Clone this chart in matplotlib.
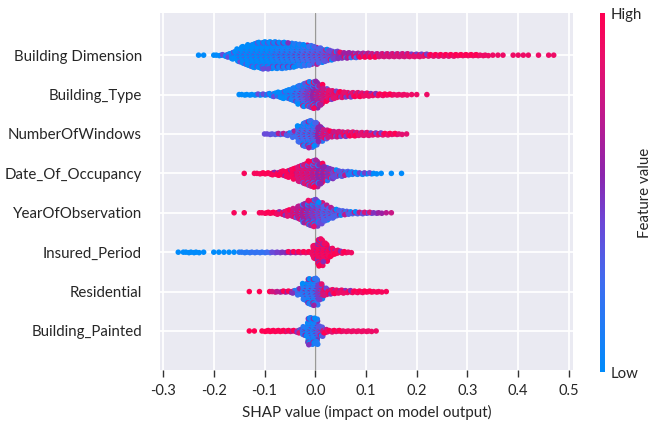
import numpy as np
import matplotlib
matplotlib.use("Agg")
import matplotlib.pyplot as plt
import seaborn as sns
from matplotlib.colors import LinearSegmentedColormap

sns.set_theme(style="darkgrid")
plt.rcParams['font.family'] = ['Lato', 'DejaVu Sans']

# features, top to bottom
features = ["Building Dimension", "Building_Type", "NumberOfWindows",
            "Date_Of_Occupancy", "YearOfObservation", "Insured_Period",
            "Residential", "Building_Painted"]

# dots per 0.01-wide SHAP bin, starting at bin_start[i]
bin_start = [-0.23, -0.15, -0.10, -0.14, -0.16, -0.27, -0.13, -0.13]

counts = [
    [1, 1, 0, 1, 2, 4, 8, 16, 28, 38, 46, 52, 56, 58, 58, 57, 56, 55, 53, 50,
     47, 45, 42, 38, 32, 26, 21, 17, 14, 12, 11, 10, 9, 9, 8, 8, 7, 7, 7, 7,
     7, 7, 6, 6, 6, 5, 4, 4, 4, 4, 4, 3, 3, 3, 3, 3, 2, 2, 1, 1, 1, 0, 1, 1,
     1, 1, 0, 1, 0, 1, 1],
    [1, 2, 2, 2, 3, 3, 5, 8, 12, 17, 22, 30, 40, 50, 56, 58, 44, 28, 20, 16,
     13, 11, 10, 9, 8, 7, 6, 5, 4, 3, 3, 2, 2, 2, 1, 1, 0, 1],
    [1, 2, 2, 3, 4, 6, 14, 35, 52, 58, 50, 32, 20, 14, 12, 11, 10, 9, 8, 7,
     7, 6, 5, 5, 4, 3, 3, 2, 1],
    [1, 0, 1, 2, 3, 4, 6, 9, 12, 17, 24, 34, 44, 54, 58, 44, 30, 22, 16, 12,
     9, 7, 5, 4, 3, 3, 2, 1, 0, 1, 0, 1],
    [1, 0, 1, 0, 0, 1, 2, 3, 4, 6, 10, 14, 20, 30, 42, 54, 58, 46, 34, 24,
     16, 11, 8, 6, 5, 4, 3, 3, 2, 2, 1, 1],
    [1, 1, 2, 2, 2, 1, 0, 1, 1, 1, 1, 1, 1, 2, 2, 2, 2, 2, 2, 2, 2, 2, 3, 3,
     3, 3, 4, 30, 58, 40, 18, 9, 5, 3, 2],
    [1, 0, 1, 0, 1, 2, 2, 3, 4, 6, 14, 36, 56, 58, 34, 16, 10, 8, 7, 6, 5, 4,
     4, 3, 3, 2, 2, 1],
    [1, 1, 0, 2, 3, 3, 3, 3, 3, 4, 8, 20, 58, 56, 22, 8, 4, 3, 3, 2, 2, 2, 2,
     2, 2, 1],
]

# mean feature value per bin (0 = low, 1 = high)
feat_mean = [
    [0, 0, 0, 0, 0, 0, 0, 0, 0, 0, 0, 0, 0, 0, 0, 0.05, 0.1, 0.1, 0.1, 0.15,
     0.15, 0.25, 0.25, 0.3, 0.3, 0.35, 0.4, 0.45, 0.5, 0.6, 0.6, 0.65, 0.65,
     0.7, 0.75, 0.75, 0.8, 0.8, 0.8, 0.8, 0.8, 0.8, 0.85, 0.85, 0.85, 0.85,
     0.85, 0.85, 0.85, 0.85, 0.85, 0.9, 0.9, 0.9, 0.9, 0.9, 0.9, 0.9, 0.9,
     0.9, 0.9, 0.9, 0.9, 0.9, 0.9, 0.9, 0.9, 0.9, 0.9, 0.9, 0.9],
    [0, 0, 0, 0, 0, 0, 0, 0, 0, 0, 0.05, 0.1, 0.2, 0.35, 0.45, 0.55, 0.65,
     0.75, 0.85, 0.85, 0.85, 0.85, 0.85, 0.85, 0.85, 0.9, 0.9, 0.9, 0.9, 0.9,
     0.9, 0.9, 0.9, 0.9, 0.9, 0.9, 0.9, 0.9],
    [0.4, 0.4, 0.35, 0.3, 0.3, 0.3, 0.25, 0.25, 0.25, 0.25, 0.3, 0.55, 0.75,
     0.75, 0.75, 0.8, 0.85, 0.85, 0.85, 0.85, 0.85, 0.85, 0.85, 0.85, 0.85,
     0.85, 0.85, 0.85, 0.85],
    [0.95, 0.95, 0.95, 0.95, 0.95, 0.95, 0.95, 0.95, 0.95, 0.95, 0.95, 0.8,
     0.8, 0.75, 0.65, 0.55, 0.55, 0.5, 0.4, 0.35, 0.3, 0.1, 0.1, 0.05, 0.05,
     0, 0, 0, 0, 0, 0, 0],
    [0.95, 0.95, 0.95, 0.95, 0.95, 0.95, 0.95, 0.95, 0.95, 0.9, 0.9, 0.85,
     0.75, 0.7, 0.6, 0.5, 0.45, 0.4, 0.3, 0.3, 0.3, 0.3, 0.3, 0.3, 0.35, 0.35,
     0.4, 0.4, 0.5, 0.6, 0.7, 0.75],
    [0, 0, 0, 0, 0, 0, 0, 0, 0, 0, 0, 0, 0.1, 0.15, 0.15, 0.2, 0.2, 0.2, 0.25,
     0.4, 0.45, 0.5, 0.55, 0.6, 0.7, 0.8, 0.85, 0.9, 0.92, 0.92, 0.92, 0.92,
     0.92, 0.92, 0.92],
    [1, 1, 1, 1, 1, 0.8, 0.7, 0.6, 0.6, 0.5, 0.2, 0.15, 0.15, 0.2, 0.45, 0.8,
     0.9, 0.9, 0.9, 0.9, 0.92, 0.92, 0.92, 0.92, 0.95, 0.95, 0.95, 0.95],
    [1, 1, 1, 1, 1, 1, 0.95, 0.95, 0.8, 0.7, 0.45, 0.15, 0.1, 0.12, 0.35,
     0.75, 0.85, 0.85, 0.85, 0.9, 0.9, 0.9, 0.9, 0.9, 0.9, 0.9],
]

cmap = LinearSegmentedColormap.from_list(
    "shap_red_blue",
    [(0.0, "#008bfb"), (0.25, "#3f6cf0"), (0.42, "#6d46d6"),
     (0.55, "#8c25ad"), (0.72, "#c0198c"), (0.87, "#e8106c"),
     (1.0, "#ff0052")])

fig = plt.figure(figsize=(6.55, 4.22), dpi=100)
ax = fig.add_axes([160 / 655, 1 - 370 / 422, 413 / 655, 357 / 422])

spread = [0, 0, 0.4, 0, -0.4]  # colour variation inside a bin
n_feat = len(features)
for i, name in enumerate(features):
    row = n_feat - 1 - i
    c = np.array(counts[i])
    centers = bin_start[i] + 0.01 * np.arange(len(c))
    max_layer = np.ceil((c.max() - 1) / 2)
    xs, ys, vs = [], [], []
    for x0, n, m in zip(centers, c, feat_mean[i]):
        for j in range(n):
            layer = np.ceil(j / 2) * (1 if j % 2 == 0 else -1)
            # spread the dots of a bin across its width
            dx = ((j * 0.618) % 1 - 0.5) * 0.01 if n > 1 else 0
            xs.append(x0 + dx)
            ys.append(row + layer * 0.36 / (max_layer + 1))
            vs.append(np.clip(m + spread[j % len(spread)], 0, 1))
    ax.scatter(xs, ys, c=vs, cmap=cmap, vmin=0, vmax=1, s=16,
               linewidths=0, zorder=3)

ax.axvline(0, color="#999999", lw=1, zorder=2)
ax.set_xlim(-0.306, 0.508)
ax.set_ylim(-0.99, n_feat - 1 + 1.07)
ax.set_yticks(range(n_feat))
ax.set_yticklabels(features[::-1], fontsize=10.8, color="#262626")
ax.set_xticks([-0.3, -0.2, -0.1, 0.0, 0.1, 0.2, 0.3, 0.4, 0.5])
ax.set_xticklabels(["-0.3", "-0.2", "-0.1", "0.0", "0.1", "0.2", "0.3",
                    "0.4", "0.5"], fontsize=10.5, color="#262626")
ax.tick_params(axis="y", length=0, pad=13)
ax.tick_params(axis="x", bottom=True, length=5, width=1, color="#333333",
               direction="out", pad=5)
ax.set_xlabel("SHAP value (impact on model output)", fontsize=10.9,
              color="#262626", labelpad=5)
ax.grid(True, color="white", lw=1.3)
ax.set_axisbelow(True)
for s in ax.spines.values():
    s.set_visible(False)

# colour bar
cax = fig.add_axes([600 / 655, 1 - 372 / 422, 5 / 655, 359 / 422])
sm = plt.cm.ScalarMappable(cmap=cmap, norm=plt.Normalize(0, 1))
cb = fig.colorbar(sm, cax=cax, ticks=[0, 1])
cb.set_ticklabels(["Low", "High"])
cb.outline.set_visible(False)
cax.tick_params(length=0, labelsize=10.8, pad=4, colors="#262626")
cb.set_label("Feature value", fontsize=10.8, color="#262626", labelpad=-3)

fig.savefig("out.png", dpi=100)
